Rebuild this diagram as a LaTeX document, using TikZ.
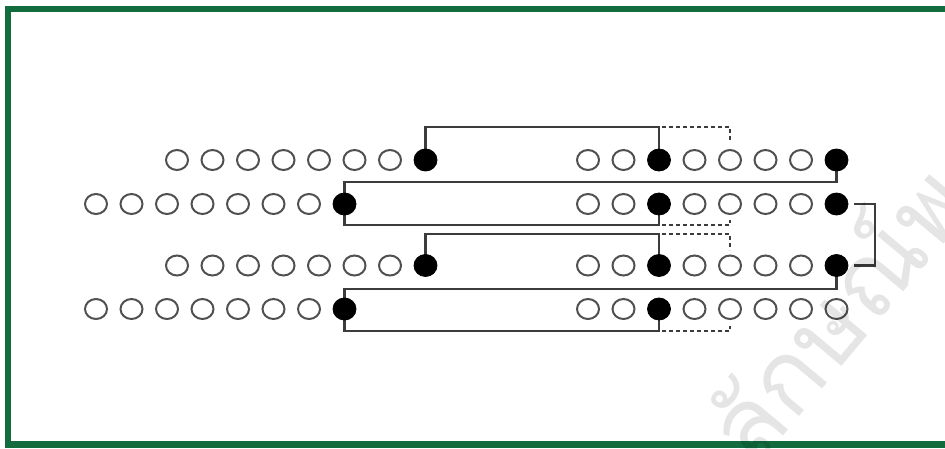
\documentclass[tikz,border=0pt]{standalone}
\usepackage{fontspec}
\newfontfamily\thaifont[Script=Thai]{Loma}
\usetikzlibrary{shapes.geometric}
\pgfdeclarelayer{paper}
\pgfdeclarelayer{wires}
\pgfsetlayers{paper,wires,main}
\definecolor{framegreen}{RGB}{18,108,62}
\definecolor{ringgray}{RGB}{80,80,80}
\definecolor{linegray}{RGB}{60,60,60}
\tikzset{
  opendot/.style={ellipse,draw=ringgray,line width=2pt,fill=white,minimum width=22pt,minimum height=20pt,inner sep=0pt},
  fulldot/.style={ellipse,draw=black,fill=black,line width=0.8pt,minimum width=23pt,minimum height=22pt,inner sep=0pt},
  conn/.style={draw=linegray,line width=2.2pt},
  dconn/.style={draw=linegray,line width=1.6pt,dash pattern=on 4pt off 3pt},
}
\begin{document}
\begin{tikzpicture}[x=1pt,y=-1pt]
\useasboundingbox (0,0) rectangle (945,448);
\clip (0,0) rectangle (945,448);
\begin{pgfonlayer}{paper}
\fill[white] (0,0) rectangle (945,448);
\draw[framegreen,line width=6.5pt] (8,9) rectangle (960,444.5);
\end{pgfonlayer}
% rows
\foreach \r/\y/\xl in {1/160/177,2/204/96,3/265.5/177,4/309/96}{
  \foreach \k in {0,...,6}{
    \node[opendot] (r\r L\k) at ({\xl+35.5*\k},\y) {};
  }
  \node[fulldot] (r\r L7) at ({\xl+35.5*7},\y) {};
  \foreach \k in {0,1,3,4,5,6}{
    \node[opendot] (r\r R\k) at ({588+35.5*\k},\y) {};
  }
  \node[fulldot] (r\r R2) at ({588+35.5*2},\y) {};
}
\node[fulldot] (r1R7) at ({588+35.5*7},160) {};
\node[fulldot] (r2R7) at ({588+35.5*7},204) {};
\node[fulldot] (r3R7) at ({588+35.5*7},265.5) {};
\node[opendot] (r4R7) at ({588+35.5*7},309) {};
% helper coordinates
\coordinate (y1) at (0,127);
\coordinate (y2) at (0,182);
\coordinate (y3) at (0,225);
\coordinate (y4) at (0,234);
\coordinate (y5) at (0,289);
\coordinate (y6) at (0,331);
\coordinate (xr) at (875,0);
\coordinate (d1a) at (730,127);
\coordinate (d1b) at (730,141);
\coordinate (d2a) at (730,225);
\coordinate (d2b) at (730,220);
\coordinate (d3a) at (730,234);
\coordinate (d3b) at (730,250);
\coordinate (d4a) at (730,331);
\coordinate (d4b) at (730,326);
\begin{pgfonlayer}{wires}
\draw[conn] (r1L7.center) |- (r1R2 |- y1) -- (r1R2.center);
\draw[conn] (r1R7.center) |- (r2L7 |- y2) -- (r2L7 |- y3) -| (r2R2.center);
\draw[conn] (r3L7.center) |- (r3R2 |- y4) -- (r3R2.center);
\draw[conn] ([xshift=6pt]r2R7.east) -- (r2R7 -| xr) -- (r3R7 -| xr) -- ([xshift=6pt]r3R7.east);
\draw[conn] (r3R7.center) |- (r4L7 |- y5) -- (r4L7 |- y6) -| (r4R2.center);
\draw[dconn] ([xshift=3pt]r1R2 |- y1) -- (d1a) -- (d1b);
\draw[dconn] ([xshift=3pt]r2R2 |- y3) -- (d2a) -- (d2b);
\draw[dconn] ([xshift=3pt]r3R2 |- y4) -- (d3a) -- (d3b);
\draw[dconn] ([xshift=3pt]r4R2 |- y6) -- (d4a) -- (d4b);
\end{pgfonlayer}
% watermark
\node[rotate=50,text=black,opacity=0.1,font=\thaifont\fontsize{100}{100}\selectfont,inner sep=0pt] (wm) at (832,310) {ลักษณ์พ};
\end{tikzpicture}
\end{document}
